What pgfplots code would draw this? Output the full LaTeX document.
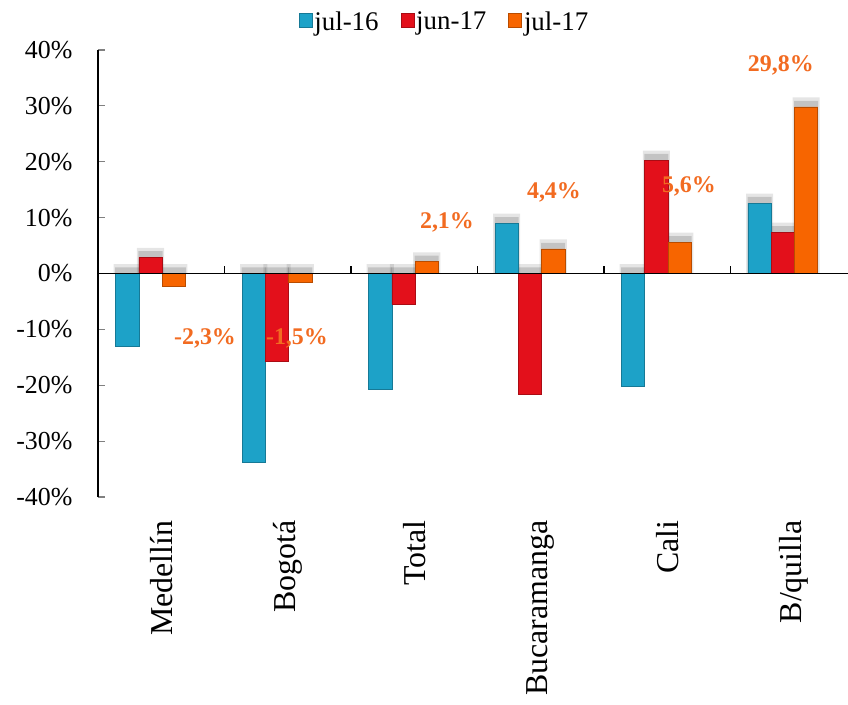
\documentclass[border=0pt]{standalone}
\usepackage{pgfplots}
\pgfplotsset{compat=1.18}
\usepackage{fontspec}
\setmainfont{Liberation Serif}

\definecolor{cteal}{HTML}{1DA2C8}
\definecolor{cred}{HTML}{E3101B}
\definecolor{corange}{HTML}{F76500}
\definecolor{clabel}{HTML}{F26B21}

\begin{document}
\begin{tikzpicture}
\useasboundingbox (-98bp,-208bp) rectangle (750bp,497bp);
\begin{axis}[
    at={(0,0)}, anchor=south west,
    scale only axis,
    width=750bp, height=447bp,
    xmin=-0.5, xmax=5.43,
    ymin=-40, ymax=40,
    axis lines*=left,
    x axis line style={draw=none},
    y axis line style={line width=1.2bp},
    xtick={0,1,2,3,4,5},
    xticklabels={Medellín,Bogotá,Total,Bucaramanga,Cali,B/quilla},
    xtick style={draw=none},
    xticklabel style={rotate=90, anchor=east, font=\fontsize{32}{36}\selectfont, xshift=-20bp},
    ytick={-40,-30,...,40},
    yticklabel={\pgfmathprintnumber{\tick}\%},
    yticklabel style={font=\fontsize{26}{30}\selectfont, xshift=-22bp},
    /pgf/number format/assume math mode=true,
    ytick style={line width=1.2bp},
    tick align=inside,
    major tick length=7bp,
    clip=false,
    legend style={at={(0.462,1.063)}, anchor=center, draw=none, fill=none,
        legend columns=3, font=\fontsize{27}{30}\selectfont,
        /tikz/every even column/.append style={column sep=20bp},
        inner sep=0pt},
    legend image code/.code={\fill[#1] (0bp,-5bp) rectangle (13bp,9bp);},
]
% soft shadows behind the bars
\addplot[ybar, bar width=0.215, bar shift=0pt, draw=none, fill=black, opacity=0.10, forget plot]
coordinates {(-0.269,1.7) (0.731,1.7) (1.731,1.7) (2.731,10.7) (3.731,1.7) (4.731,14.3)};
\addplot[ybar, bar width=0.215, bar shift=0pt, draw=none, fill=black, opacity=0.10, forget plot]
coordinates {(-0.085,4.6) (0.915,1.7) (1.915,1.7) (2.915,1.7) (3.915,22.0) (4.915,9.1)};
\addplot[ybar, bar width=0.215, bar shift=0pt, draw=none, fill=black, opacity=0.10, forget plot]
coordinates {(0.099,1.7) (1.099,1.7) (2.099,3.8) (3.099,6.1) (4.099,7.3) (5.099,31.5)};
\addplot[ybar, bar width=0.19, bar shift=0pt, draw=none, fill=black, opacity=0.15, forget plot]
coordinates {(-0.269,1.1) (0.731,1.1) (1.731,1.1) (2.731,10.1) (3.731,1.1) (4.731,13.7)};
\addplot[ybar, bar width=0.19, bar shift=0pt, draw=none, fill=black, opacity=0.15, forget plot]
coordinates {(-0.085,4.0) (0.915,1.1) (1.915,1.1) (2.915,1.1) (3.915,21.4) (4.915,8.5)};
\addplot[ybar, bar width=0.19, bar shift=0pt, draw=none, fill=black, opacity=0.15, forget plot]
coordinates {(0.099,1.1) (1.099,1.1) (2.099,3.2) (3.099,5.5) (4.099,6.7) (5.099,30.9)};

% jul-16
\addplot[ybar, bar width=0.184, bar shift=0pt, draw=cteal!75!black, line width=0.6bp, fill=cteal]
coordinates {(-0.269,-13.0) (0.731,-33.7) (1.731,-20.7) (2.731,9.0) (3.731,-20.2) (4.731,12.6)};
% jun-17
\addplot[ybar, bar width=0.184, bar shift=0pt, draw=cred!75!black, line width=0.6bp, fill=cred]
coordinates {(-0.085,2.9) (0.915,-15.8) (1.915,-5.5) (2.915,-21.7) (3.915,20.3) (4.915,7.4)};
% jul-17
\addplot[ybar, bar width=0.184, bar shift=0pt, draw=corange!75!black, line width=0.6bp, fill=corange]
coordinates {(0.099,-2.3) (1.099,-1.5) (2.099,2.1) (3.099,4.4) (4.099,5.6) (5.099,29.8)};
\legend{jul-16,jun-17,jul-17}

% zero line with category separators
\draw[line width=1.5bp] (axis cs:-0.5,0) -- (axis cs:5.43,0);
\pgfplotsinvokeforeach{0.5,1.5,2.5,3.5,4.5}{
  \draw[line width=1.5bp] (axis cs:#1,0) -- ([yshift=8bp]axis cs:#1,0);
}

% data labels for jul-17
\begin{scope}[every node/.style={text=clabel, font=\fontsize{24}{28}\selectfont\bfseries}]
\node at (axis cs:0.346,-11.6) {-2,3\%};
\node at (axis cs:1.073,-11.6) {-1,5\%};
\node at (axis cs:2.259,9.1) {2,1\%};
\node at (axis cs:3.105,14.5) {4,4\%};
\node at (axis cs:4.172,15.6) {5,6\%};
\node at (axis cs:4.899,37.2) {29,8\%};
\end{scope}
\end{axis}
\end{tikzpicture}
\end{document}
